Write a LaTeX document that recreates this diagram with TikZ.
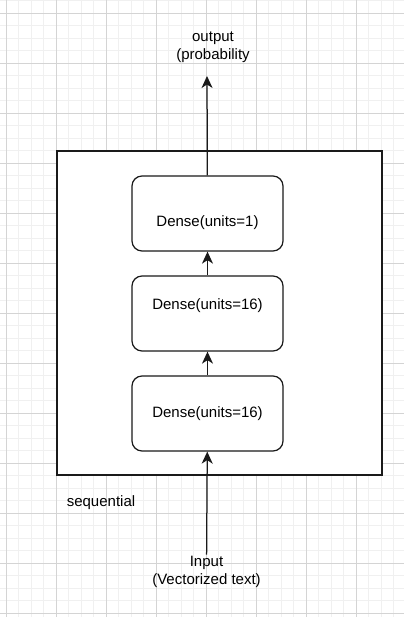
\documentclass[tikz,border=0pt]{standalone}
\usepackage{fontspec}
\setmainfont{Liberation Sans}
\usetikzlibrary{arrows.meta}
\definecolor{gridmajor}{HTML}{D4D4D4}
\definecolor{gridminor}{HTML}{F0F0F0}
\definecolor{inkline}{HTML}{1A1A1A}

\begin{document}
\begin{tikzpicture}[x=1pt,y=-1pt,
  layer/.style={draw=inkline,line width=1.25pt,rounded corners=10pt,minimum width=151pt,minimum height=75pt,inner sep=0pt},
  flow/.style={draw=inkline,line width=1.25pt,-{Stealth[length=12pt,width=11pt,inset=3.5pt]}},
  font=\fontsize{15}{18}\selectfont]
\useasboundingbox (0,0) rectangle (404,617);
\fill[white] (0,0) rectangle (404,617);
% grid
\foreach \i in {0,...,33} \draw[gridminor,line width=1pt] (6.3+12.5*\i,0)--(6.3+12.5*\i,617);
\foreach \i in {-1,...,48} \draw[gridminor,line width=1pt] (0,13.3+12.5*\i)--(404,13.3+12.5*\i);
\foreach \i in {0,...,8} \draw[gridmajor,line width=1pt] (6.3+50*\i,0)--(6.3+50*\i,617);
\foreach \i in {0,...,12} \draw[gridmajor,line width=1pt] (0,13.3+50*\i)--(404,13.3+50*\i);
% model
\node[draw=inkline,fill=white,line width=1.25pt,minimum width=325pt,minimum height=324pt] (seq) at (219.5,313) {};
\node[layer,label={[yshift=-9pt]center:Dense(units=1)}] (dense1) at (207.5,213.5) {};
\node[layer,label={[yshift=8pt]center:Dense(units=16)}] (dense2) at (207.5,313.5) {};
\node[layer] (dense3) at (207.5,413.5) {Dense(units=16)};
\node (seqlab) at (101,503) {sequential};
\node[align=center,inner sep=1pt] (input) at (206.5,571.5) {Input\\(Vectorized text)};
\node[align=center] (output) at (213,47.5) {output\\(probability};
\coordinate (outtip) at (207,76);
\draw[flow] (input) -- (dense3);
\draw[flow] (dense3) -- (dense2);
\draw[flow] (dense2) -- (dense1);
\draw[flow] (dense1) -- (outtip);
\end{tikzpicture}
\end{document}
